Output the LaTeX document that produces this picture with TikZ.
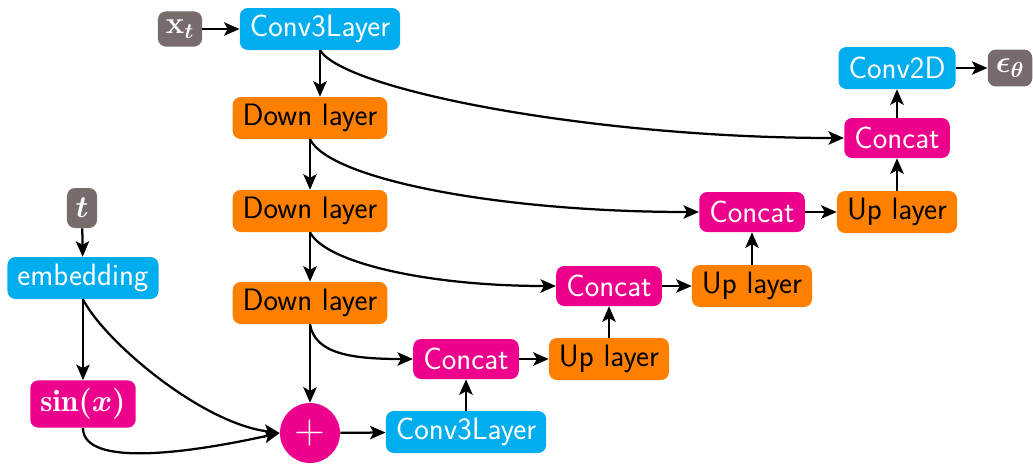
\RequirePackage{fix-cm}
\documentclass[tikz,border=0pt]{standalone}
\usepackage{fontspec}
\usetikzlibrary{arrows.meta}
\definecolor{cyanc}{HTML}{00AEEF}
\definecolor{orangec}{HTML}{FF8000}
\definecolor{magc}{HTML}{EC008C}
\definecolor{grayc}{HTML}{776B6B}
\tikzset{
  box/.style={rounded corners=0.2cm, minimum height=1.05cm, inner xsep=0.25cm, inner ysep=0pt,
    font=\fontsize{22}{26}\selectfont\sffamily},
  cbox/.style={box, fill=cyanc, text=white},
  obox/.style={box, fill=orangec, text=black},
  mbox/.style={box, fill=magc, text=white, minimum height=1cm},
  gbox/.style={rounded corners=0.2cm, fill=grayc, text=white, minimum height=0.88cm, inner xsep=0.2cm,
    font=\boldmath\fontsize{22}{26}\selectfont},
  conn/.style={-{Stealth[length=11pt,width=9.5pt,inset=2.5pt]}, line width=1.6pt},
}
\begin{document}
\begin{tikzpicture}[x=0.025cm, y=-0.025cm]
\useasboundingbox (0,0) rectangle (1033,463);
% nodes
\node[gbox] (xt) at (180,29) {$\mathbf{x}_t$};
\node[cbox] (c3a) at (320,29) {Conv3Layer};
\node[obox] (d1) at (310,118) {Down layer};
\node[obox] (d2) at (310,211) {Down layer};
\node[obox] (d3) at (310,303) {Down layer};
\node[circle, fill=magc, text=white, minimum size=1.5cm, inner sep=0pt, font=\fontsize{30}{32}\selectfont\sffamily] (plus) at (310,433) {+};
\node[cbox] (c3b) at (466,432) {Conv3Layer};
\node[mbox] (cc1) at (466,359) {Concat};
\node[obox] (u1) at (609,359) {Up layer};
\node[mbox] (cc2) at (609,286) {Concat};
\node[obox] (u2) at (752,286) {Up layer};
\node[mbox] (cc3) at (752,212) {Concat};
\node[obox] (u3) at (897,212) {Up layer};
\node[mbox] (cc4) at (897,138) {Concat};
\node[cbox] (c2d) at (897,68) {Conv2D};
\node[gbox, minimum height=0.92cm] (eps) at (1010,68) {$\epsilon_\theta$};
\node[gbox, minimum height=1cm, minimum width=0.75cm, inner xsep=0.1cm] (t) at (82,208) {$t$};
\node[cbox] (emb) at (83,278) {embedding};
\node[mbox, font=\boldmath\fontsize{22}{26}\selectfont, minimum height=1.18cm] (sin) at (83,404) {$\sin(x)$};
% connectors
\draw[conn] (xt) -- (c3a);
\draw[conn] (c3a.south) -- (c3a.south |- d1.north);
\draw[conn] (c3a.south) .. controls +(25,40) and +(-250,0) .. (cc4.west);
\draw[conn] (d1) -- (d2);
\draw[conn] (d1.south) .. controls +(20,40) and +(-200,0) .. (cc3.west);
\draw[conn] (d2) -- (d3);
\draw[conn] (d2.south) .. controls +(15,30) and +(-130,0) .. (cc2.west);
\draw[conn] (d3) -- (plus);
\draw[conn] (d3.south) .. controls +(5,30) and +(-60,0) .. (cc1.west);
\draw[conn] (t) -- (emb);
\draw[conn] (emb) -- (sin);
\draw[conn] (emb.south) .. controls +(20,40) and +(-80,-10) .. (plus.west);
\draw[conn] (sin.south) .. controls +(0,40) and +(-90,20) .. (plus.west);
\draw[conn] (plus) -- (c3b);
\draw[conn] (c3b) -- (cc1);
\draw[conn] (cc1) -- (u1);
\draw[conn] (u1) -- (cc2);
\draw[conn] (cc2) -- (u2);
\draw[conn] (u2) -- (cc3);
\draw[conn] (cc3) -- (u3);
\draw[conn] (u3) -- (cc4);
\draw[conn] (cc4) -- (c2d);
\draw[conn] (c2d) -- (eps);
\end{tikzpicture}
\end{document}
